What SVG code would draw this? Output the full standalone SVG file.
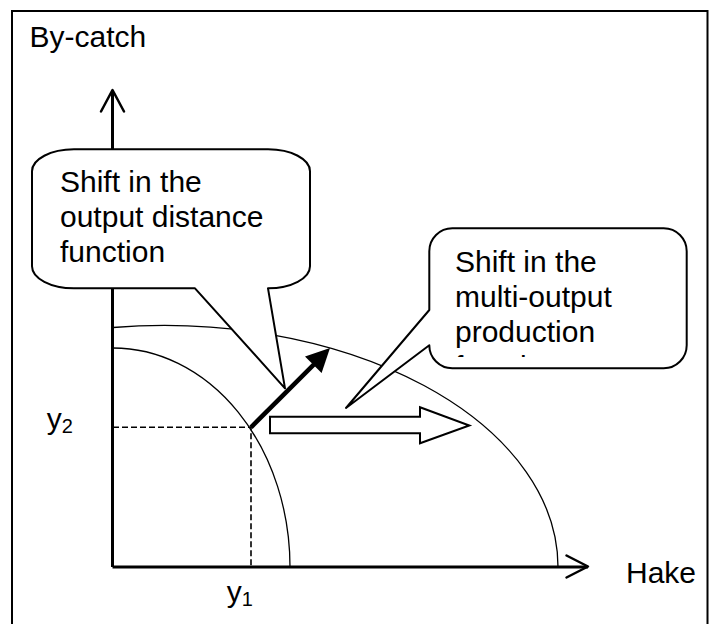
<svg xmlns="http://www.w3.org/2000/svg" width="719" height="624" viewBox="0 0 719 624">
<style>
text{font-family:"Liberation Sans",Arial,sans-serif;font-size:30px;fill:#000}
.sub{font-size:20px}
.curve{fill:none;stroke:#000;stroke-width:1.3}
.dash{fill:none;stroke:#000;stroke-width:1.6;stroke-dasharray:6 3}
.axis{fill:none;stroke:#000;stroke-width:3}
.head{fill:none;stroke:#000;stroke-width:2.5;stroke-linecap:round;stroke-linejoin:round}
.callout{fill:#fff;stroke:#000;stroke-width:2;stroke-linejoin:round}
</style>
<defs>
<clipPath id="clip2"><rect x="440" y="236" width="240" height="121"/></clipPath>
</defs>
<rect x="0" y="0" width="719" height="624" fill="#fff"/>
<rect id="frame" x="12" y="11" width="695.5" height="700" fill="none" stroke="#000" stroke-width="2"/>
<g id="curves">
<path class="curve" d="M113 327.5 A394 241.5 0 0 1 558 567"/>
<path class="curve" d="M113 348 A177 219 0 0 1 290 567"/>
</g>
<g id="connectors">
<path class="dash" d="M113 427.3 H251 V567"/>
<path class="axis" d="M112.5 567 V90"/>
<path class="axis" d="M112.5 567 H588"/>
<path class="head" d="M101 111.5 L112.5 90 L124 111.5"/>
<path class="head" d="M566.5 555.5 L588 566.5 L566.5 577.5"/>
<path id="block-arrow" d="M270 416.7 H420 V407.3 L469.3 425.5 L420 443.3 V433.3 H270 Z" fill="#fff" stroke="#000" stroke-width="2" stroke-linejoin="miter"/>
</g>
<g id="label-bycatch"><text x="29.5" y="46.7">By-catch</text></g>
<g id="label-hake"><text x="626" y="583.3">Hake</text></g>
<g id="label-y2"><text x="46.7" y="429">y<tspan class="sub" dy="4">2</tspan></text></g>
<g id="label-y1"><text x="226.7" y="602">y<tspan class="sub" dy="4">1</tspan></text></g>
<g id="callout-output-distance">
<path class="callout" d="M74 149.3 H268 A42 22 0 0 1 310 171.3 V266.3 A42 22 0 0 1 268 288.3 L285 388.3 L195 288.3 H74 A42 22 0 0 1 32 266.3 V171.3 A42 22 0 0 1 74 149.3 Z"/>
<text x="60" y="191.7">Shift in the</text>
<text x="60" y="226.7">output distance</text>
<text x="60" y="261.7">function</text>
</g>
<g id="callout-production">
<path class="callout" d="M452.3 228.3 H663.7 A23 23 0 0 1 686.7 251.3 V345.3 A23 23 0 0 1 663.7 368.3 H452.3 A23 23 0 0 1 429.3 345.3 L346 408 L429.3 310 V251.3 A23 23 0 0 1 452.3 228.3 Z"/>
<g clip-path="url(#clip2)">
<text x="455" y="271.7">Shift in the</text>
<text x="455" y="306.5">multi-output</text>
<text x="455" y="341.5">production</text>
<text x="455" y="376.5">function</text>
</g>
</g>
<g id="thick-arrow">
<path d="M251 427.3 L314 364.3" stroke="#000" stroke-width="4.5" fill="none"/>
<polygon points="330,348 305,356.4 321.6,373" fill="#000"/>
</g>
</svg>
